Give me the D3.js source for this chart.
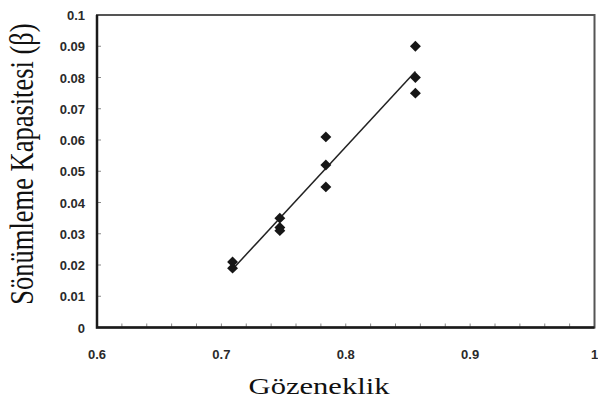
<!DOCTYPE html>
<html>
<head>
<meta charset="utf-8">
<script src="https://cdn.jsdelivr.net/npm/d3@7"></script>
<style>
  body { margin: 0; background: #fff; }
  svg { display: block; }
  .tick-label { font-family: "Liberation Sans", Arial, sans-serif; font-weight: bold; font-size: 13px; fill: #2a2a2a; }
  .axis-title { font-family: "Liberation Serif", "Times New Roman", serif; fill: #111; }
</style>
</head>
<body>
<svg width="598" height="401"></svg>
<script>
// porosity (x) and damping capacity (y)
const porosity = [0.709, 0.709, 0.747, 0.747, 0.747, 0.784, 0.784, 0.784, 0.856, 0.856, 0.856];
const damping = [0.021, 0.019, 0.035, 0.032, 0.031, 0.061, 0.052, 0.045, 0.090, 0.080, 0.075];

const xTickLabels = [0.6, 0.7, 0.8, 0.9, 1];
const yTickLabels = [0, 0.01, 0.02, 0.03, 0.04, 0.05, 0.06, 0.07, 0.08, 0.09, 0.1];

const svg = d3.select('svg');
const margin = { left: 97, right: 3, top: 15, bottom: 74 };
const width = 598, height = 401;

const x = d3.scaleLinear().domain([0.6, 1]).range([margin.left, width - margin.right - 0.5]);
const y = d3.scaleLinear().domain([0, 0.1]).range([height - margin.bottom + 0.5, margin.top]);

// minor x ticks every 0.02, drawn inward
const xMinor = d3.range(0.62, 0.99, 0.02);
svg.append('g')
    .selectAll('line')
    .data(xMinor)
    .enter()
    .append('line')
    .attr('x1', (d) => x(d)).attr('x2', (d) => x(d))
    .attr('y1', y(0)).attr('y2', y(0) - 4)
    .attr('stroke', '#888').attr('stroke-width', 1);

svg.append('g')
    .selectAll('line')
    .data(yTickLabels.slice(1, -1))
    .enter()
    .append('line')
    .attr('x1', x(0.6)).attr('x2', x(0.6) + 4)
    .attr('y1', (d) => y(d)).attr('y2', (d) => y(d))
    .attr('stroke', '#888').attr('stroke-width', 1);

// frame
svg.append('rect')
    .attr('x', x(0.6)).attr('y', y(0.1))
    .attr('width', x(1) - x(0.6)).attr('height', y(0) - y(0.1))
    .attr('fill', 'none').attr('stroke', '#555').attr('stroke-width', 2);
svg.append('path')
    .attr('d', `M${x(0.6)},${y(0.1)}V${y(0)}H${x(1)}`)
    .attr('fill', 'none').attr('stroke', '#1a1a1a').attr('stroke-width', 2.5);

// tick labels
svg.append('g')
    .selectAll('text')
    .data(xTickLabels)
    .enter()
    .append('text')
    .attr('class', 'tick-label')
    .attr('x', (d) => x(d))
    .attr('y', y(0) + 31)
    .attr('text-anchor', 'middle')
    .text((d) => d);

svg.append('g')
    .selectAll('text')
    .data(yTickLabels)
    .enter()
    .append('text')
    .attr('class', 'tick-label')
    .attr('x', x(0.6) - 12)
    .attr('y', (d) => y(d) + 5)
    .attr('text-anchor', 'end')
    .text((d) => d);

// least squares line over the data range
const mx = d3.mean(porosity), my = d3.mean(damping);
const sxy = d3.sum(porosity, (d, i) => (d - mx) * (damping[i] - my));
const sxx = d3.sum(porosity, (d) => (d - mx) * (d - mx));
const slope = sxy / sxx;
const [x0, x1] = d3.extent(porosity);
const fit = [x0, x1].map((v) => [v, my + slope * (v - mx)]);

svg.append('path')
    .datum(fit)
    .attr('d', d3.line().x((d) => x(d[0])).y((d) => y(d[1])))
    .attr('fill', 'none').attr('stroke', '#222').attr('stroke-width', 1.5);

const diamond = d3.symbol().type(d3.symbolDiamond2).size(76);
svg.append('g')
    .selectAll('path')
    .data(porosity)
    .enter()
    .append('path')
    .attr('d', diamond)
    .attr('transform', (d, i) => `translate(${x(d)},${y(damping[i])})`)
    .attr('fill', '#161616');

// axis titles (the source image is stretched sideways)
svg.append('text')
    .attr('class', 'axis-title')
    .attr('font-size', 23)
    .attr('transform', 'translate(319,394) scale(1.33,1)')
    .attr('text-anchor', 'middle')
    .text('Gözeneklik');

svg.append('text')
    .attr('class', 'axis-title')
    .attr('font-size', 26.5)
    .attr('transform', 'translate(33,164) rotate(-90) scale(1,1.25)')
    .attr('text-anchor', 'middle')
    .text('Sönümleme Kapasitesi (β)');
</script>
</body>
</html>
